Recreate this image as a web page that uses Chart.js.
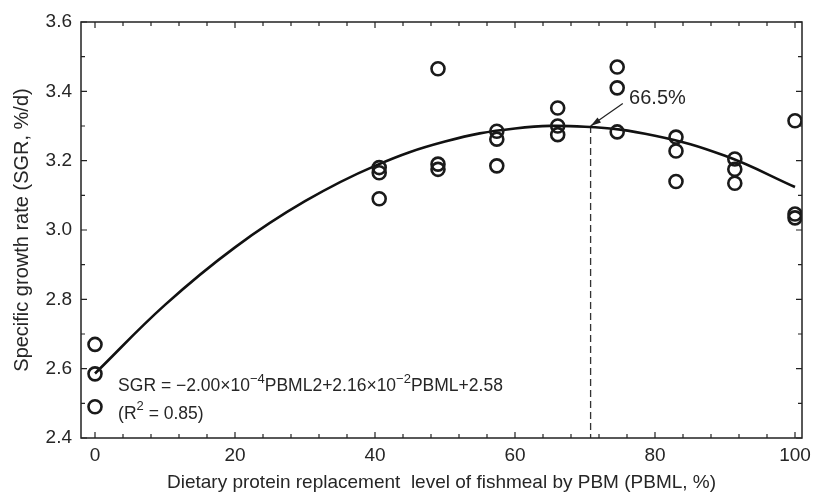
<!DOCTYPE html>
<html lang="en">

<head>
    <meta charset="UTF-8">
    <title>SGR vs PBML</title>
    <script src="https://cdn.jsdelivr.net/npm/chart.js"></script>
    <style>
        body { margin: 0; background: #fff; }
        #wrap { width: 814px; height: 495px; }
    </style>
</head>

<body>
    <div id="wrap"><canvas id="sgrChart"></canvas></div>

    <script>
        // axis ticks
        const xTicks = [0, 20, 40, 60, 80, 100];
        const yTicks = [2.4, 2.6, 2.8, 3.0, 3.2, 3.4, 3.6];

        // observed points
        const pbml = [0, 0, 0, 40.6, 40.6, 40.6, 49, 49, 49, 57.4, 57.4, 57.4, 66.1, 66.1, 66.1,
            74.6, 74.6, 74.6, 83, 83, 83, 91.4, 91.4, 91.4, 100, 100, 100];
        const sgr = [2.67, 2.585, 2.49, 3.18, 3.165, 3.09, 3.465, 3.19, 3.175, 3.285, 3.262, 3.185,
            3.352, 3.30, 3.275, 3.47, 3.41, 3.283, 3.268, 3.228, 3.14, 3.205, 3.175, 3.135,
            3.315, 3.046, 3.035];

        // fitted curve
        const fitX = [0, 10, 20, 30, 40, 50, 60, 70, 80, 90, 100];
        const fitY = [2.586, 2.784, 2.950, 3.083, 3.185, 3.255, 3.293, 3.298, 3.272, 3.214, 3.124];

        // optimum marker
        const peakX = 70.8;
        const peakY = 3.30;
        const peakLabel = '66.5%';

        const textColor = '#262626';
        const fontFamily = '"Liberation Sans", Arial, sans-serif';

        const frameTicks = {
            id: 'frameTicks',
            afterDatasetsDraw(chart) {
                const { ctx, chartArea: a, scales: { x, y } } = chart;
                ctx.save();
                ctx.strokeStyle = '#222';
                ctx.lineWidth = 1.5;
                ctx.strokeRect(a.left, a.top, a.right - a.left, a.bottom - a.top);

                ctx.lineWidth = 1.2;
                ctx.beginPath();
                for (let v = 0; v <= 100; v += 4) {
                    const px = x.getPixelForValue(v);
                    const len = v % 20 === 0 ? 6 : 4;
                    ctx.moveTo(px, a.bottom); ctx.lineTo(px, a.bottom - len);
                    ctx.moveTo(px, a.top); ctx.lineTo(px, a.top + len);
                }
                for (let i = 0; i <= 12; i++) {
                    const py = y.getPixelForValue(2.4 + i * 0.1);
                    const len = i % 2 === 0 ? 6 : 4;
                    ctx.moveTo(a.left, py); ctx.lineTo(a.left + len, py);
                    ctx.moveTo(a.right, py); ctx.lineTo(a.right - len, py);
                }
                ctx.stroke();

                // arrow + label for the optimum
                const tx = x.getPixelForValue(peakX);
                const ty = y.getPixelForValue(peakY);
                const sx = x.getPixelForValue(75.4);
                const sy = y.getPixelForValue(3.365);
                ctx.lineWidth = 1.2;
                ctx.beginPath();
                ctx.moveTo(sx, sy); ctx.lineTo(tx, ty);
                ctx.stroke();
                const ang = Math.atan2(ty - sy, tx - sx);
                ctx.fillStyle = '#222';
                ctx.beginPath();
                ctx.moveTo(tx, ty);
                ctx.lineTo(tx - 11 * Math.cos(ang - 0.28), ty - 11 * Math.sin(ang - 0.28));
                ctx.lineTo(tx - 11 * Math.cos(ang + 0.28), ty - 11 * Math.sin(ang + 0.28));
                ctx.closePath();
                ctx.fill();

                ctx.fillStyle = textColor;
                ctx.textBaseline = 'middle';
                ctx.textAlign = 'left';
                ctx.font = '20px ' + fontFamily;
                ctx.fillText(peakLabel, x.getPixelForValue(76.3), y.getPixelForValue(3.378));

                // equation with superscripts
                const parts = [
                    ['SGR = \u22122.00\u00d710', false], ['\u22124', true],
                    ['PBML2+2.16\u00d710', false], ['\u22122', true], ['PBML+2.58', false]
                ];
                let ex = x.getPixelForValue(3.3);
                const ey = y.getPixelForValue(2.55);
                parts.forEach(([t, sup]) => {
                    ctx.font = (sup ? '13px ' : '17.5px ') + fontFamily;
                    ctx.fillText(t, ex, sup ? ey - 7 : ey);
                    ex += ctx.measureText(t).width;
                });
                const ry = y.getPixelForValue(2.47);
                let rx = x.getPixelForValue(3.3);
                [['(R', false], ['2', true], [' = 0.85)', false]].forEach(([t, sup]) => {
                    ctx.font = (sup ? '13px ' : '17.5px ') + fontFamily;
                    ctx.fillText(t, rx, sup ? ry - 7 : ry);
                    rx += ctx.measureText(t).width;
                });
                ctx.restore();
            }
        };

        new Chart(document.getElementById('sgrChart'), {
            type: 'scatter',
            data: {
                datasets: [{
                    label: 'Observed',
                    data: pbml.map((v, i) => ({ x: v, y: sgr[i] })),
                    pointRadius: 6.5,
                    pointBorderWidth: 2.6,
                    borderColor: '#1a1a1a',
                    backgroundColor: 'rgba(0,0,0,0)'
                }, {
                    label: 'Fit',
                    type: 'line',
                    data: fitX.map((v, i) => ({ x: v, y: fitY[i] })),
                    borderColor: '#111',
                    borderWidth: 2.6,
                    pointRadius: 0,
                    tension: 0.4,
                    fill: false
                }, {
                    label: 'Optimum',
                    type: 'line',
                    data: [{ x: peakX, y: peakY }, { x: peakX, y: 2.4 }],
                    borderColor: '#333',
                    borderWidth: 1.3,
                    borderDash: [7, 4],
                    pointRadius: 0,
                    fill: false
                }]
            },
            options: {
                responsive: true,
                maintainAspectRatio: false,
                animation: false,
                layout: { padding: { left: 0, right: 12, top: 22, bottom: 0 } },
                plugins: { legend: { display: false }, tooltip: { enabled: false } },
                scales: {
                    x: {
                        type: 'linear',
                        min: -2,
                        max: 101,
                        afterBuildTicks: s => { s.ticks = xTicks.map(v => ({ value: v })); },
                        afterFit: s => { s.height = 57; s.paddingLeft = 0; s.paddingRight = 0; },
                        grid: { display: false, drawTicks: false },
                        border: { display: false },
                        ticks: { color: textColor, padding: 6, font: { size: 19, family: fontFamily } },
                        title: {
                            display: true,
                            text: 'Dietary protein replacement  level of fishmeal by PBM (PBML, %)',
                            color: textColor,
                            padding: { top: 0, bottom: 1 },
                            font: { size: 19, family: fontFamily }
                        }
                    },
                    y: {
                        min: 2.4,
                        max: 3.6,
                        afterBuildTicks: s => { s.ticks = yTicks.map(v => ({ value: v })); },
                        afterFit: s => { s.width = 81; s.paddingTop = 0; s.paddingBottom = 0; },
                        grid: { display: false, drawTicks: false },
                        border: { display: false },
                        ticks: {
                            color: textColor, padding: 9,
                            font: { size: 19, family: fontFamily },
                            callback: v => v.toFixed(1)
                        },
                        title: {
                            display: true,
                            text: 'Specific growth rate (SGR, %/d)',
                            color: textColor,
                            padding: { top: 10, bottom: 0 },
                            font: { size: 20, family: fontFamily }
                        }
                    }
                }
            },
            plugins: [frameTicks]
        });
    </script>
</body>

</html>
